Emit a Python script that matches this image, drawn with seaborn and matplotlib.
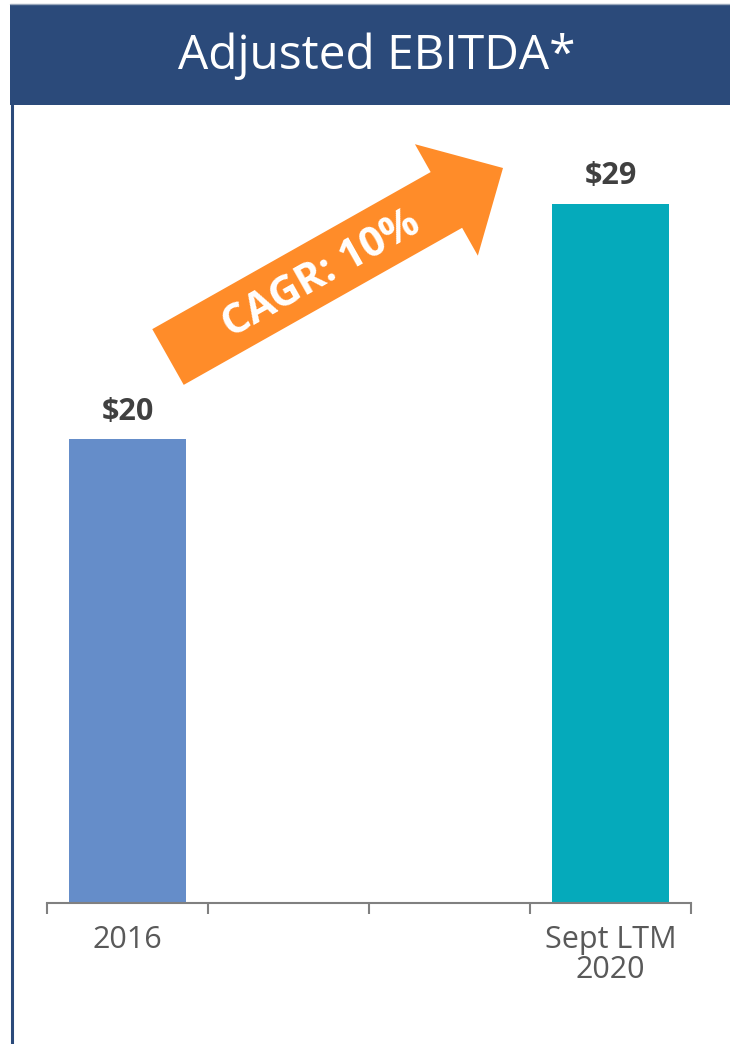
import numpy as np
import pandas as pd
import seaborn as sns
import matplotlib.pyplot as plt
from matplotlib.patches import Rectangle, FancyArrow
from matplotlib.lines import Line2D

# Colours
NAVY = "#2B4A7A"
ORANGE = "#FF8C29"
AXIS_GREY = "#808080"
LABEL_DARK = "#404040"
TICK_GREY = "#595959"

sns.set_theme(style="white")
plt.rcParams["font.family"] = ["Open Sans", "DejaVu Sans"]

# ----------------------------------------------------------------------
# DATA
# ----------------------------------------------------------------------
title = "Adjusted EBITDA*"
categories = ["2016", "gap_a", "gap_b", "Sept LTM 2020"]
tick_labels = ["2016", "", "", "Sept LTM\n2020"]
ebitda = [19.5, np.nan, np.nan, 29.4]
bar_colors = ["#658DC9", "#FFFFFF", "#FFFFFF", "#05AABB"]
cagr_label = "CAGR: 10%"

df = pd.DataFrame({"period": categories, "ebitda": ebitda}).dropna()

# ----------------------------------------------------------------------
# FIGURE
# ----------------------------------------------------------------------
W, H = 730, 1044
fig = plt.figure(figsize=(W / 100, H / 100), dpi=100)
fig.patch.set_facecolor("white")

# axes: x 47..691 px, baseline at y=903 px, top at y=105 px
ax = fig.add_axes([47 / W, (H - 903) / H, 644 / W, 798 / H])

sns.barplot(
    data=df,
    x="period",
    y="ebitda",
    hue="period",
    order=categories,
    hue_order=categories,
    palette=dict(zip(categories, bar_colors)),
    saturation=1,
    width=0.73,
    errorbar=None,
    legend=False,
    linewidth=0,
    ax=ax,
)

# value labels above bars
for i, v in enumerate(ebitda):
    if np.isnan(v):
        continue
    ax.annotate(
        f"${v:.0f}",
        (i, v),
        xytext=(0, 14),
        textcoords="offset points",
        ha="center",
        va="baseline",
        fontsize=22,
        fontweight="bold",
        color=LABEL_DARK,
    )

ax.set_xlim(-0.5, len(categories) - 0.5)
ax.set_ylim(0, 33.56)
ax.set_xlabel("")
ax.set_ylabel("")
ax.set_yticks([])

# tick marks on category boundaries, labels on category centres
ax.set_xticks(np.arange(-0.5, len(categories), 1), labels=[""] * (len(categories) + 1))
ax.set_xticks(range(len(categories)), minor=True)
ax.set_xticklabels(tick_labels, minor=True)
ax.tick_params(axis="x", which="major", length=8, width=1.5, color=AXIS_GREY, bottom=True)
ax.tick_params(axis="x", which="minor", length=0, pad=16, labelsize=22, labelcolor=TICK_GREY)
for lab in ax.get_xticklabels(minor=True):
    lab.set_linespacing(1.0)

for side in ["left", "right", "top"]:
    ax.spines[side].set_visible(False)
ax.spines["bottom"].set_color(AXIS_GREY)
ax.spines["bottom"].set_linewidth(1.5)

# header band + title
fig.patches.append(
    Rectangle((10 / W, 1 - 105 / H), 1 - 10 / W, 101 / H,
              transform=fig.transFigure, facecolor=NAVY, edgecolor="none", zorder=0)
)
fig.lines.append(
    Line2D([10 / W, 1], [1 - 4 / H, 1 - 4 / H], transform=fig.transFigure,
           color="#9AA8BC", linewidth=1)
)
fig.text(377 / W, 1 - 56 / H, title, ha="center", va="center",
         fontsize=34.5, color="white")

# left border line
fig.lines.append(
    Line2D([11.5 / W, 11.5 / W], [0, 1 - 105 / H], transform=fig.transFigure,
           color=NAVY, linewidth=2.2)
)

# CAGR arrow (drawn in inches so it is not distorted)
x0, y0 = 168 / 100, (H - 357) / 100
x1, y1 = 503 / 100, (H - 168) / 100
arrow = FancyArrow(
    x0, y0, x1 - x0, y1 - y0,
    width=0.64, head_width=1.28, head_length=0.65,
    length_includes_head=True,
    transform=fig.dpi_scale_trans, facecolor=ORANGE, edgecolor="none",
)
fig.patches.append(arrow)
angle = np.degrees(np.arctan2(y1 - y0, x1 - x0))
fig.text(322 / W, 1 - 275 / H, cagr_label, rotation=angle, rotation_mode="anchor",
         ha="center", va="center", fontsize=30, fontweight="bold", color="white")

fig.savefig("out.png", dpi=100)
